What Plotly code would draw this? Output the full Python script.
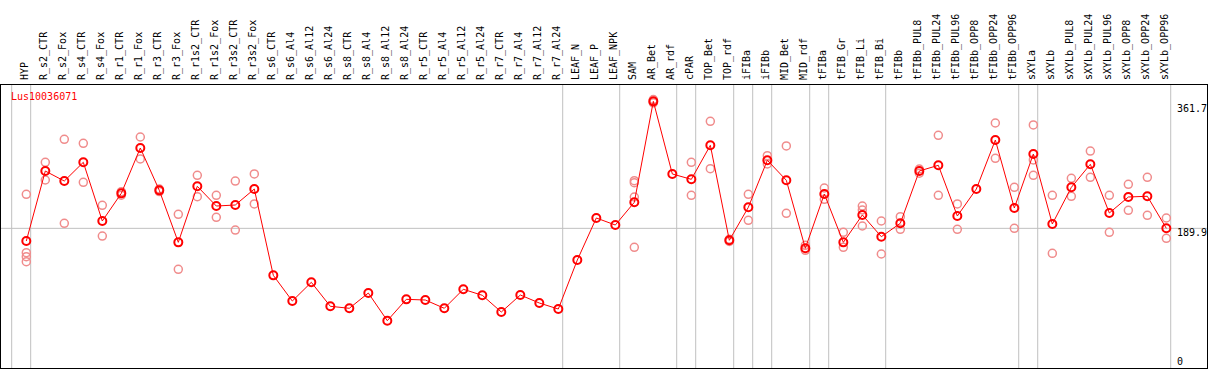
import plotly.graph_objects as go

title_text = "Lus10036071"

categories = [
    "HYP", "R_s2_CTR", "R_s2_Fox", "R_s4_CTR", "R_s4_Fox", "R_r1_CTR", "R_r1_Fox",
    "R_r3_CTR", "R_r3_Fox", "R_r1s2_CTR", "R_r1s2_Fox", "R_r3s2_CTR", "R_r3s2_Fox",
    "R_s6_CTR", "R_s6_Al4", "R_s6_Al12", "R_s6_Al24", "R_s8_CTR", "R_s8_Al4",
    "R_s8_Al12", "R_s8_Al24", "R_r5_CTR", "R_r5_Al4", "R_r5_Al12", "R_r5_Al24",
    "R_r7_CTR", "R_r7_Al4", "R_r7_Al12", "R_r7_Al24", "LEAF_N", "LEAF_P", "LEAF_NPK",
    "SAM", "AR_Bet", "AR_rdf", "cPAR", "TOP_Bet", "TOP_rdf", "iFIBa", "iFIBb",
    "MID_Bet", "MID_rdf", "tFIBa", "tFIB_Gr", "tFIB_Li", "tFIB_Bi", "tFIBb",
    "tFIBb_PUL8", "tFIBb_PUL24", "tFIBb_PUL96", "tFIBb_OPP8", "tFIBb_OPP24",
    "tFIBb_OPP96", "sXYLa", "sXYLb", "sXYLb_PUL8", "sXYLb_PUL24", "sXYLb_PUL96",
    "sXYLb_OPP8", "sXYLb_OPP24", "sXYLb_OPP96",
]

mean_values = [
    172.6, 268.0, 254.4, 279.9, 199.9, 237.6, 299.4, 241.7, 170.8, 247.2, 220.3,
    221.7, 243.5, 125.8, 90.8, 116.3, 83.6, 80.9, 101.7, 64.0, 93.1, 92.2, 80.9,
    106.8, 98.6, 75.8, 99.0, 88.1, 79.9, 146.7, 204.0, 194.4, 225.4, 363.0, 264.0,
    256.7, 303.1, 173.6, 218.6, 282.7, 255.4, 162.7, 236.7, 170.8, 208.1, 178.5,
    196.8, 268.1, 275.8, 206.7, 243.5, 310.3, 217.6, 291.2, 195.8, 245.8, 277.2,
    210.8, 232.6, 233.6, 189.9,
]

replicates = [
    [236.3, 156.7, 151.2, 144.4], [279.9, 255.8], [311.3, 196.8], [305.8, 252.6],
    [221.3, 179.4], [239.9, 235.0], [314.4, 284.4], [243.5, 240.0], [209.0, 134.0],
    [262.2, 233.0], [234.9, 204.9], [254.4, 187.6], [264.0, 223.1],
    [], [], [], [], [], [], [], [], [], [], [], [], [], [], [], [],
    [], [], [],
    [254.8, 252.1, 232.6, 164.0], [365.5, 362.0, 361.0], [], [279.9, 234.9],
    [335.8, 271.2], [175.0, 172.0], [236.3, 200.8], [288.9, 277.6], [302.2, 210.4],
    [166.8, 159.9], [244.9, 229.5], [184.5, 164.0], [220.3, 214.9, 193.1],
    [199.9, 154.9], [205.8, 188.6], [270.8, 265.0], [316.7, 234.9], [223.1, 188.6],
    [], [333.5, 285.4], [245.8, 189.9], [330.8, 283.1, 262.2], [234.9, 155.8],
    [258.1, 233.6], [295.3, 259.5], [234.9, 184.5], [249.9, 214.5], [259.5, 207.7],
    [204.0, 176.3],
]

# indices after which a group separator is drawn
group_ends = [-1, 0, 28, 31, 34, 35, 37, 38, 39, 41, 42, 45, 52, 53, 60]

ref_line_value = 189.9
axis_labels = ["361.7", "189.9", "0"]
axis_label_values = [361.7, 189.9, 0.0]

FONT = "DejaVu Sans Mono"
x_idx = list(range(len(categories)))

rep_x, rep_y = [], []
for i, reps in enumerate(replicates):
    for v in reps:
        rep_x.append(i)
        rep_y.append(v)

fig = go.Figure()
fig.add_trace(go.Scatter(
    x=rep_x, y=rep_y, mode="markers",
    marker=dict(symbol="circle-open", size=8, color="#f08c8c", line=dict(width=1.5)),
    hoverinfo="y", showlegend=False,
))
fig.add_trace(go.Scatter(
    x=x_idx, y=mean_values, mode="lines+markers",
    line=dict(color="#ff0000", width=1),
    marker=dict(symbol="circle-open", size=8, color="#ff0000", line=dict(width=2)),
    showlegend=False,
))

shapes = []
for g in group_ends:
    shapes.append(dict(type="line", xref="x", yref="paper", x0=g + 0.23, x1=g + 0.23,
                       y0=0, y1=1, line=dict(color="#c0c0c0", width=1), layer="below"))
shapes.append(dict(type="line", xref="paper", yref="y", x0=0, x1=1,
                   y0=ref_line_value, y1=ref_line_value,
                   line=dict(color="#c0c0c0", width=1), layer="below"))

annotations = [dict(text=title_text, xref="paper", yref="paper", x=0.0068, y=0.96,
                    xanchor="left", yanchor="middle", showarrow=False,
                    font=dict(family=FONT, size=10, color="#ff0000"))]
label_shift = [-6, -4, 6]
for lab, val, sh in zip(axis_labels, axis_label_values, label_shift):
    annotations.append(dict(text=lab, xref="paper", yref="y", x=0.9738, y=val,
                            xanchor="left", yanchor="middle", yshift=sh, showarrow=False,
                            font=dict(family=FONT, size=10, color="#000000")))

fig.update_layout(
    width=1209, height=370,
    margin=dict(l=1, r=2, t=85, b=2, pad=0, autoexpand=False),
    paper_bgcolor="white", plot_bgcolor="white",
    shapes=shapes, annotations=annotations,
    font=dict(family=FONT, size=10, color="black"),
    xaxis=dict(
        range=[-1.332, 62.14], side="top", tickmode="array", tickvals=x_idx,
        ticktext=categories, tickangle=-90, showgrid=False, zeroline=False,
        showline=True, linecolor="black", linewidth=1, mirror=True, ticks="",
        tickfont=dict(family=FONT, size=10, color="black"), ticklabelstandoff=2,
        ticklabelshift=-2, automargin=False,
    ),
    yaxis=dict(
        range=[-0.5, 385.3], showgrid=False, zeroline=False, showticklabels=False,
        showline=True, linecolor="black", linewidth=1, mirror=True, ticks="",
        automargin=False,
    ),
)

fig.write_html(
    "out.html",
    config={"displayModeBar": False},
    post_script="document.body.style.margin='0';document.body.style.overflow='hidden';",
)
